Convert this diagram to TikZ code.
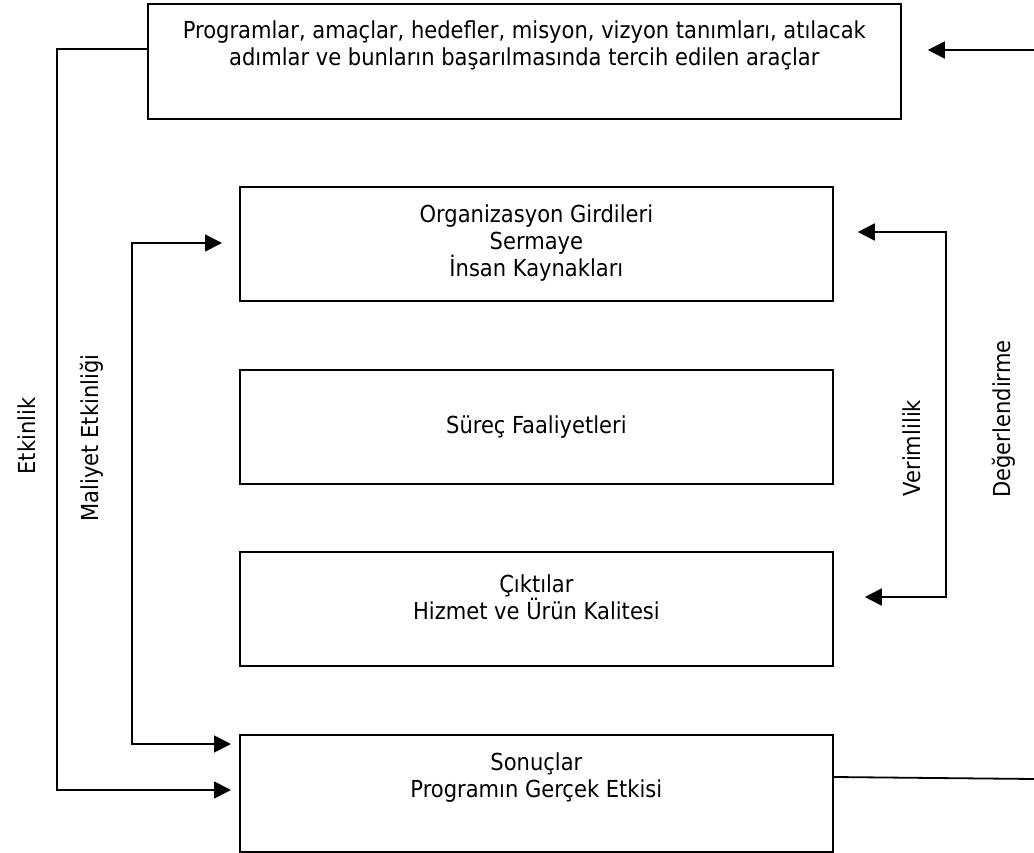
\documentclass[tikz,border=0pt]{standalone}
\usepackage{fontspec}
\setmainfont{DejaVu Sans Condensed}
\usetikzlibrary{arrows.meta}
\begin{document}
\begin{tikzpicture}[x=1pt,y=-1pt,
  box/.style={draw, line width=1.8pt, minimum width=#1, minimum height=114pt, anchor=north west, inner sep=0pt},
  txt/.style={align=center, anchor=center, font=\fontsize{23.4}{27}\selectfont, inner sep=0pt},
  vlab/.style={rotate=90, font=\fontsize{23.4}{27}\selectfont, inner sep=0pt},
  conn/.style={line width=1.8pt},
  tip/.style={Triangle[length=17pt,width=17pt]},
  arr/.style={conn, -{Triangle[length=17pt,width=17pt]}},
  darr/.style={conn, {Triangle[length=17pt,width=17pt]}-{Triangle[length=17pt,width=17pt]}}]
\useasboundingbox (0,0) rectangle (1034,853);
% boxes
\node[box=753pt, minimum height=115pt] (prog) at (147,3) {};
\node[box=593pt] (org) at (239,186) {};
\node[box=593pt] (surec) at (239,369) {};
\node[box=593pt] (cikti) at (239,551) {};
\node[box=593pt, minimum height=117pt] (sonuc) at (239,734) {};
% texts
\node[txt] (tprog) at (prog.north |- 0,45) {Programlar, amaçlar, hedefler, misyon, vizyon tanımları, atılacak\\adımlar ve bunların başarılmasında tercih edilen araçlar};
\node[txt] (torg) at (org.north |- 0,243) {Organizasyon Girdileri\\Sermaye\\İnsan Kaynakları};
\node[txt] (tsurec) at (surec.center) {Süreç Faaliyetleri};
\node[txt] (tcikti) at (cikti.north |- 0,597) {Çıktılar\\Hizmet ve Ürün Kalitesi};
\node[txt] (tsonuc) at (sonuc.north |- 0,778) {Sonuçlar\\Programın Gerçek Etkisi};
% coordinates
\coordinate (etkT) at (57,49);
\coordinate (etkB) at (57,790);
\coordinate (malT) at (132,243);
\coordinate (malB) at (132,744);
\coordinate (verT) at (946,232);
\coordinate (verB) at (946,597);
\coordinate (degT) at (1034,50);
\coordinate (degB) at (1034,779);
% connectors
\draw[arr, shorten >=8pt] (prog.west |- etkT) -- (etkT) -- (etkB) -- (sonuc.west |- etkB);
\draw[darr, shorten <=17pt, shorten >=8pt] (org.west |- malT) -- (malT) -- (malB) -- (sonuc.west |- malB);
\draw[darr, shorten <=24pt, shorten >=31pt] (org.east |- verT) -- (verT) -- (verB) -- (cikti.east |- verB);
\draw[arr, shorten >=26pt] (degT) -- (prog.east |- degT);
\draw[conn] (sonuc.east |- 0,777) -- (degB);
% labels
\node[vlab] (letk) at (27,436) {Etkinlik};
\node[vlab] (lmal) at (92,438) {Maliyet Etkinliği};
\node[vlab] (lver) at (912,448) {Verimlilik};
\node[vlab] (ldeg) at (1004,419) {Değerlendirme};
\end{tikzpicture}
\end{document}
